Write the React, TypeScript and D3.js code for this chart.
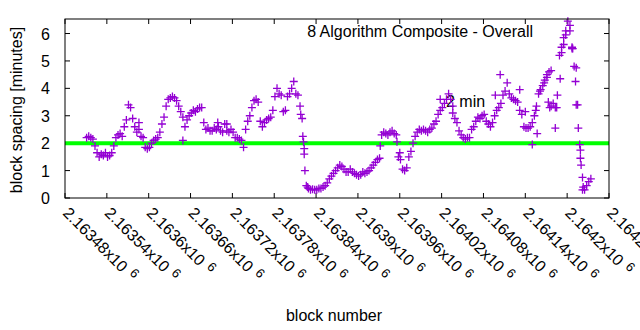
import React from "react";
import * as d3 from "d3";

// ---- data ----
const firstBlock = 2163511;
const blockStep = 3;
const spacingValues: number[] = [
  2.2, 2.25, 2.2, 2.15, 1.9, 1.65, 1.5, 1.6, 1.55, 1.65,
  1.5, 1.55, 1.65, 1.9, 2.2, 2.3, 2.35, 2.25, 2.6, 2.85,
  3.4, 3.3, 2.9, 2.6, 2.4, 2.5, 2.25, 2.2, 1.85, 1.8,
  1.85, 2.0, 2.1, 2.15, 2.2, 2.4, 2.7, 2.95, 3.35, 3.6,
  3.65, 3.7, 3.65, 3.55, 3.35, 3.15, 2.95, 2.6, 2.85, 3.0,
  3.1, 3.2, 3.15, 3.25, 3.3, 3.3, 2.75, 2.5, 2.55, 2.45,
  2.45, 2.55, 2.5, 2.6, 2.45, 2.4, 2.7, 2.45, 2.4, 2.5,
  2.4, 2.2, 2.2, 2.15, 2.1, 1.85, 2.5, 2.8, 3.0, 3.3,
  3.55, 3.6, 3.5, 2.8, 2.6, 2.75, 2.85, 2.9, 2.95, 3.2,
  3.7, 4.0, 3.8, 3.75, 3.15, 3.2, 3.7, 3.8, 4.0, 4.25,
  3.8, 3.75, 3.35, 2.9, 1.8, 0.45, 0.35, 0.3, 0.32, 0.3,
  0.3, 0.35, 0.35, 0.4, 0.45, 0.55, 0.7, 0.8, 0.9, 1.0,
  1.1, 1.2, 1.15, 1.05, 0.95, 0.95, 1.05, 0.95, 0.9, 0.85,
  0.8, 0.85, 0.95, 0.9, 0.95, 1.0, 1.1, 1.2, 1.3, 1.4,
  1.45, 2.3, 2.4, 2.35, 2.3, 2.4, 2.45, 2.35, 2.3, 1.5,
  1.4, 1.05, 1.0, 1.1, 1.5, 1.7, 2.0, 2.25, 2.4, 2.5,
  2.45, 2.5, 2.45, 2.4, 2.5, 2.55, 2.7, 2.8, 3.05, 3.2,
  3.3, 3.45, 3.6, 3.8, 3.6, 3.35, 2.9, 2.75, 2.45, 2.3,
  2.2, 2.15, 2.2, 2.2, 2.5, 2.6, 2.8, 2.95, 2.9, 3.0,
  3.05, 2.8, 2.7, 2.6, 2.75, 3.0, 3.2, 3.3, 3.45, 3.75,
  3.9, 4.2, 3.8, 3.65, 3.6, 3.55, 3.5, 3.2, 3.05, 2.6,
  2.55, 2.55, 2.6, 2.75, 3.0, 3.35, 3.8, 3.95, 4.1, 4.3,
  4.5, 4.6, 3.35, 3.45, 3.3, 3.75, 5.2, 5.5, 5.85, 6.1,
  6.45, 6.1, 5.45, 4.8, 3.4, 2.55, 1.45, 0.3, 0.3, 0.45, 0.6, 0.7,
];

const extraBlocks: number[] = [
  2163586, 2163649, 2163699, 2163712, 2163818, 2163821, 2163822, 2163823,
  2163824, 2163828, 2163932, 2163956, 2163960, 2164018, 2164036, 2164097,
  2164104, 2164132, 2164140, 2164150, 2164155, 2164157, 2164161, 2164167,
  2164171, 2164173, 2164175, 2164177, 2164183, 2164185, 2164190, 2164192,
  2164195, 2164198, 2164204, 2164207, 2164208, 2164212, 2164213, 2164215,
  2164218, 2164219, 2164220, 2164222, 2164223,
];
const extraValues: number[] = [
  2.75, 2.1, 2.75, 2.7, 3.05, 2.25, 2.05, 1.6,
  1.0, 0.4, 1.9, 2.05, 1.65, 3.6, 3.1, 3.75,
  4.5, 3.95, 3.15, 1.95, 3.2, 2.35, 3.9, 4.2,
  4.4, 3.5, 3.3, 4.65, 2.55, 3.3, 4.35, 5.3,
  5.6, 5.95, 6.3, 5.5, 5.45, 4.25, 4.75, 3.4,
  1.95, 1.75, 1.2, 0.75, 0.4,
];

const xTickValues: number[] = [
  2163480, 2163540, 2163600, 2163660, 2163720, 2163780, 2163840,
  2163900, 2163960, 2164020, 2164080, 2164140, 2164200, 2164260,
];
const xTickLabels: string[] = [
  "2.16348", "2.16354", "2.1636", "2.16366", "2.16372", "2.16378", "2.16384",
  "2.1639", "2.16396", "2.16402", "2.16408", "2.16414", "2.1642", "2.16426",
];
const yTickValues: number[] = [0, 1, 2, 3, 4, 5, 6];
const targetSpacing = 2;

const titleText = "8 Algorithm Composite - Overall";
const targetLabel = "2 min";
const xAxisLabel = "block number";
const yAxisLabel = "block spacing [minutes]";

// ---- layout ----
const W = 640;
const H = 330;
const L = 65;
const R = 609;
const T = 19;
const B = 198;
const FONT = "'Liberation Sans', Arial, sans-serif";
const PURPLE = "#9400d3";

export default function App() {
  const x = d3.scaleLinear().domain([2163480, 2164260]).range([L, R]);
  const y = d3.scaleLinear().domain([0, 6.53]).range([B, T]);

  const points: [number, number][] = spacingValues.map((v, i) => [
    firstBlock + i * blockStep,
    v,
  ]);
  extraBlocks.forEach((b, i) => points.push([b, extraValues[i]]));

  const plus = "M-4,0H4M0,-4V4";
  const tick = 5;

  return (
    <svg
      width={W}
      height={H}
      style={{ position: "absolute", left: 0, top: 0, background: "#fff" }}
      fontFamily={FONT}
    >
      <rect x={0} y={0} width={W} height={H} fill="#fff" />
      {/* y ticks */}
      {yTickValues.map((v) => (
        <g key={"y" + v}>
          <line x1={L} x2={L + tick} y1={y(v)} y2={y(v)} stroke="#000" />
          <line x1={R} x2={R - tick} y1={y(v)} y2={y(v)} stroke="#000" />
          <text x={L - 15} y={y(v) + 6} textAnchor="end" fontSize={16}>
            {v}
          </text>
        </g>
      ))}
      {/* x ticks */}
      {xTickValues.map((v, i) => (
        <g key={"x" + v}>
          <line x1={x(v)} x2={x(v)} y1={B} y2={B - tick} stroke="#000" />
          <line x1={x(v)} x2={x(v)} y1={T} y2={T + tick} stroke="#000" />
          <text
            transform={`translate(${x(v) - 3},${B + 16}) rotate(45)`}
            fontSize={16}
          >
            {xTickLabels[i] + "x10"}
            <tspan dx={6} dy={-5} fontSize={13}>
              6
            </tspan>
          </text>
        </g>
      ))}
      {/* title */}
      <text x={533} y={37} textAnchor="end" fontSize={16}>
        {titleText}
      </text>
      <text x={446} y={107} fontSize={16}>
        {targetLabel}
      </text>
      {/* target line */}
      <line
        x1={L}
        x2={R}
        y1={y(targetSpacing)}
        y2={y(targetSpacing)}
        stroke="#00ff00"
        strokeWidth={4}
      />
      {/* points */}
      <g stroke={PURPLE} strokeWidth={1.3} fill="none">
        {points.map((p, i) => (
          <path
            key={i}
            d={plus}
            transform={`translate(${x(p[0])},${y(p[1])})`}
          />
        ))}
      </g>
      {/* border */}
      <rect
        x={L}
        y={T}
        width={R - L}
        height={B - T}
        fill="none"
        stroke="#000"
        strokeWidth={1}
      />
      {/* axis labels */}
      <text x={334} y={321} textAnchor="middle" fontSize={16}>
        {xAxisLabel}
      </text>
      <text
        transform={`translate(22,110) rotate(-90)`}
        textAnchor="middle"
        fontSize={16}
      >
        {yAxisLabel}
      </text>
    </svg>
  );
}
